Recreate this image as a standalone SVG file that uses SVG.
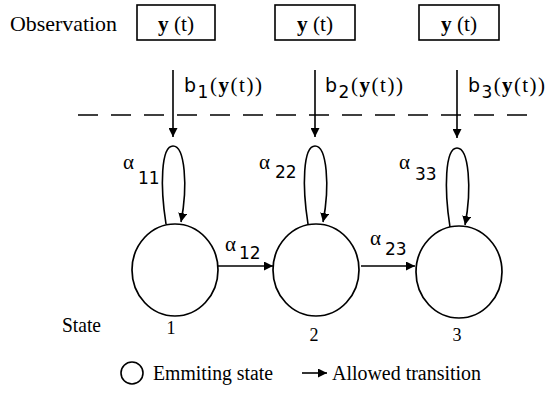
<svg xmlns="http://www.w3.org/2000/svg" width="548" height="393" viewBox="0 0 548 393">
<defs>
<marker id="ah" viewBox="0 0 10 10" refX="10" refY="5" markerWidth="9" markerHeight="9" markerUnits="userSpaceOnUse" orient="auto"><path d="M0,0 L10,5 L0,10 z" fill="#000"/></marker>
</defs>
<style>
.s{font-family:"Liberation Serif","Times New Roman",serif;fill:#000}
.ss{font-family:"DejaVu Sans","Liberation Sans",sans-serif;fill:#000}
.ln{stroke:#000;stroke-width:1.6;fill:none}
.node{stroke:#000;stroke-width:1.7;fill:#fff}
.box{stroke:#000;stroke-width:1.6;fill:#fff}
</style>
<rect width="548" height="393" fill="#fff"/>
<text class="s" x="10" y="31" font-size="21" textLength="107" lengthAdjust="spacingAndGlyphs">Observation</text>
<g id="obs1"><rect class="box" x="137" y="5" width="78" height="35"/><text class="s" x="158" y="31" font-size="21" textLength="36" lengthAdjust="spacingAndGlyphs"><tspan font-weight="bold">y</tspan> (t)</text></g>
<g id="obs2"><rect class="box" x="275" y="5" width="80" height="35"/><text class="s" x="297" y="31" font-size="21" textLength="36" lengthAdjust="spacingAndGlyphs"><tspan font-weight="bold">y</tspan> (t)</text></g>
<g id="obs3"><rect class="box" x="419" y="5" width="80" height="35"/><text class="s" x="441" y="31" font-size="21" textLength="36" lengthAdjust="spacingAndGlyphs"><tspan font-weight="bold">y</tspan> (t)</text></g>
<line x1="78" y1="115" x2="530" y2="115" stroke="#000" stroke-width="1.5" stroke-dasharray="20 13"/>
<g id="connectors">
<line class="ln" x1="173" y1="70" x2="173" y2="137" marker-end="url(#ah)"/>
<line class="ln" x1="315" y1="70" x2="315" y2="137" marker-end="url(#ah)"/>
<line class="ln" x1="457" y1="70" x2="457" y2="138" marker-end="url(#ah)"/>
<path class="ln" d="M166,224 C160,186 161,146 173,146 C185,146 188,186 181,222" marker-end="url(#ah)"/>
<path class="ln" d="M308,224 C302,186 303,146 315,146 C327,146 330,186 323,222" marker-end="url(#ah)"/>
<path class="ln" d="M450,227 C444,189 445,148 457,148 C469,148 472,189 465,225" marker-end="url(#ah)"/>
<line class="ln" x1="218" y1="266" x2="273" y2="266" marker-end="url(#ah)"/>
<line class="ln" x1="361" y1="266" x2="415" y2="266" marker-end="url(#ah)"/>
</g>
<text class="s" x="184" y="92" font-size="21" textLength="78" lengthAdjust="spacing"><tspan class="ss" font-size="19">b</tspan><tspan class="ss" font-size="17" dy="6">1</tspan><tspan dy="-6">(<tspan font-weight="bold">y</tspan>(t))</tspan></text>
<text class="s" x="325" y="92" font-size="21" textLength="78" lengthAdjust="spacing"><tspan class="ss" font-size="19">b</tspan><tspan class="ss" font-size="17" dy="6">2</tspan><tspan dy="-6">(<tspan font-weight="bold">y</tspan>(t))</tspan></text>
<text class="s" x="468" y="92" font-size="21" textLength="77" lengthAdjust="spacing"><tspan class="ss" font-size="19">b</tspan><tspan class="ss" font-size="17" dy="6">3</tspan><tspan dy="-6">(<tspan font-weight="bold">y</tspan>(t))</tspan></text>
<g id="s1"><ellipse class="node" cx="175" cy="270" rx="43" ry="46"/><text class="s" x="171" y="334" font-size="18" text-anchor="middle">1</text></g>
<g id="s2"><ellipse class="node" cx="316" cy="270" rx="43" ry="46"/><text class="s" x="314" y="341" font-size="18" text-anchor="middle">2</text></g>
<g id="s3"><ellipse class="node" cx="459" cy="272" rx="43" ry="46"/><text class="s" x="457" y="341" font-size="18" text-anchor="middle">3</text></g>
<text class="s" x="123" y="169" font-size="21">α</text><text class="ss" x="138" y="184" font-size="17">11</text>
<text class="s" x="259" y="169" font-size="21">α</text><text class="ss" x="275" y="178" font-size="17">22</text>
<text class="s" x="399" y="169" font-size="21">α</text><text class="ss" x="415" y="180" font-size="17">33</text>
<text class="s" x="225" y="251" font-size="21">α</text><text class="ss" x="239" y="259" font-size="17">12</text>
<text class="s" x="370" y="245" font-size="21">α</text><text class="ss" x="385" y="255" font-size="17">23</text>
<text class="s" x="62" y="332" font-size="21" textLength="39" lengthAdjust="spacingAndGlyphs">State</text>
<g id="legend">
<circle cx="132" cy="373" r="11" fill="none" stroke="#000" stroke-width="1.6"/>
<text class="s" x="153" y="380" font-size="20" textLength="120" lengthAdjust="spacingAndGlyphs">Emmiting state</text>
<line class="ln" x1="302" y1="373" x2="327" y2="373" stroke-width="1.3" marker-end="url(#ah)"/>
<text class="s" x="332" y="380" font-size="20" textLength="149" lengthAdjust="spacingAndGlyphs">Allowed transition</text>
</g>
</svg>
